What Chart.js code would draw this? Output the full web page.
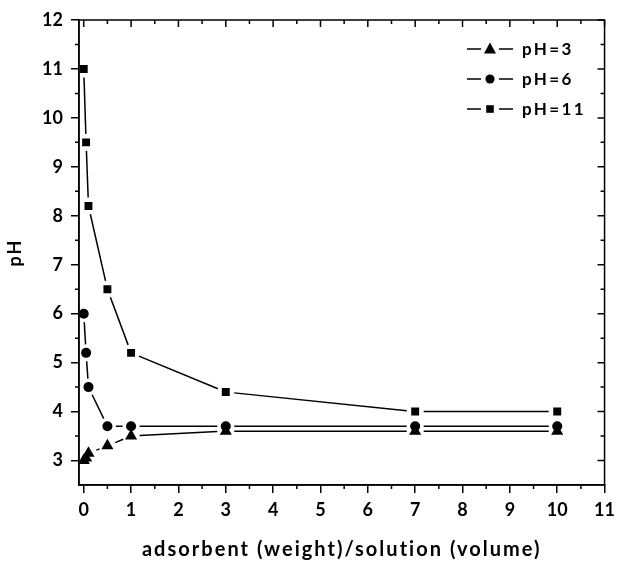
<!DOCTYPE html>
<html>
<head>
<meta charset="utf-8">
<script src="https://cdn.jsdelivr.net/npm/chart.js@4"></script>
<style>
  html, body { margin: 0; padding: 0; background: #fff; }
  #wrap { width: 621px; height: 562px; position: relative; }
</style>
</head>
<body>
<div id="wrap"><canvas id="c" width="621" height="562"></canvas></div>
<script>
// ---- data ----
const ratio = [0, 0.05, 0.1, 0.5, 1, 3, 7, 10];
const ph3 = [3.0, 3.05, 3.15, 3.3, 3.5, 3.6, 3.6, 3.6];
const ph6 = [6.0, 5.2, 4.5, 3.7, 3.7, 3.7, 3.7, 3.7];
const ph11 = [11.0, 9.5, 8.2, 6.5, 5.2, 4.4, 4.0, 4.0];
const seriesLabels = ['pH=3', 'pH=6', 'pH=11'];
const xTicks = [0, 1, 2, 3, 4, 5, 6, 7, 8, 9, 10, 11];
const yTicks = [3, 4, 5, 6, 7, 8, 9, 10, 11, 12];
const xTitle = 'adsorbent (weight)/solution (volume)';
const yTitle = 'pH';

const FONT = "Lato, 'Liberation Sans', Arial, sans-serif";
const styles = ['triangle', 'circle', 'rect'];
const radii = [7, 5, 5.6];

function toPts(ys) { return ratio.map((x, i) => ({ x: x, y: ys[i] })); }

const datasets = [ph3, ph6, ph11].map((ys, i) => ({
  label: seriesLabels[i],
  data: toPts(ys),
  showLine: false,
  pointStyle: styles[i],
  pointRadius: radii[i],
  pointBackgroundColor: '#000',
  pointBorderColor: '#000',
  pointBorderWidth: 0,
  borderColor: '#000'
}));

// gapped connecting lines (Origin style), drawn from the library's point elements
const gapLines = {
  id: 'gapLines',
  beforeDatasetsDraw(chart) {
    const ctx = chart.ctx, gap = 8.5;
    ctx.save();
    ctx.strokeStyle = '#000';
    ctx.lineWidth = 1.5;
    chart.data.datasets.forEach((ds, di) => {
      const pts = chart.getDatasetMeta(di).data;
      for (let i = 0; i < pts.length - 1; i++) {
        const a = pts[i], b = pts[i + 1];
        const dx = b.x - a.x, dy = b.y - a.y, len = Math.hypot(dx, dy);
        if (len <= 2 * gap + 2) continue;
        const ux = dx / len, uy = dy / len;
        ctx.beginPath();
        ctx.moveTo(a.x + ux * gap, a.y + uy * gap);
        ctx.lineTo(b.x - ux * gap, b.y - uy * gap);
        ctx.stroke();
      }
    });
    ctx.restore();
  }
};

function marker(ctx, style, x, y, r) {
  ctx.beginPath();
  if (style === 'circle') {
    ctx.arc(x, y, r, 0, Math.PI * 2);
  } else if (style === 'rect') {
    ctx.rect(x - r, y - r, 2 * r, 2 * r);
  } else {
    ctx.moveTo(x, y - r * 1.1);
    ctx.lineTo(x + r, y + r * 0.75);
    ctx.lineTo(x - r, y + r * 0.75);
    ctx.closePath();
  }
  ctx.fill();
}

// frame, mirrored/minor ticks and legend
const frame = {
  id: 'frame',
  afterDraw(chart) {
    const ctx = chart.ctx, a = chart.chartArea;
    const xs = chart.scales.x, ys = chart.scales.y;
    ctx.save();
    ctx.strokeStyle = '#000';
    ctx.lineWidth = 1.5;
    ctx.strokeRect(a.left, a.top, a.right - a.left, a.bottom - a.top);
    ctx.beginPath();
    xTicks.forEach(v => {
      const p = xs.getPixelForValue(v);
      ctx.moveTo(p, a.top); ctx.lineTo(p, a.top + 7);
    });
    xTicks.slice(0, -1).forEach(v => {
      const p = xs.getPixelForValue(v + 0.5);
      ctx.moveTo(p, a.top); ctx.lineTo(p, a.top + 4);
      ctx.moveTo(p, a.bottom); ctx.lineTo(p, a.bottom + 4);
    });
    yTicks.forEach(v => {
      const p = ys.getPixelForValue(v);
      ctx.moveTo(a.right, p); ctx.lineTo(a.right - 7, p);
    });
    yTicks.slice(0, -1).forEach(v => {
      const p = ys.getPixelForValue(v + 0.5);
      ctx.moveTo(a.right, p); ctx.lineTo(a.right - 4, p);
      ctx.moveTo(a.left, p); ctx.lineTo(a.left - 4, p);
    });
    ctx.stroke();

    // legend
    const lx = a.left + 388, ly0 = a.top + 29, dy = 30;
    const lr = [6, 4.6, 3.8];
    ctx.fillStyle = '#000';
    ctx.font = 'bold 17px ' + FONT;
    ctx.textBaseline = 'middle';
    ctx.textAlign = 'left';
    try { ctx.letterSpacing = '2.4px'; } catch (e) {}
    seriesLabels.forEach((t, i) => {
      const y = ly0 + i * dy;
      ctx.beginPath();
      ctx.moveTo(lx, y); ctx.lineTo(lx + 14, y);
      ctx.moveTo(lx + 32, y); ctx.lineTo(lx + 46, y);
      ctx.stroke();
      marker(ctx, styles[i], lx + 23, y, lr[i]);
      ctx.fillText(t, lx + 55, y + 1);
    });
    ctx.restore();
  }
};

function spacedTitle(targetWidth, fallback) {
  return function (scale) {
    if (scale._spacedTitle) return;
    const orig = scale.drawTitle.bind(scale);
    scale.drawTitle = function () {
      const c = scale.ctx;
      c.save();
      let sp = fallback;
      if (targetWidth) {
        const f = scale.options.title.font;
        c.font = 'bold ' + f.size + 'px ' + FONT;
        const t = scale.options.title.text;
        const w = c.measureText(t).width;
        sp = Math.max(0, (targetWidth - w) / (t.length - 1));
      }
      try { c.letterSpacing = sp + 'px'; } catch (e) {}
      orig.apply(null, arguments);
      c.restore();
    };
    scale._spacedTitle = true;
  };
}

new Chart(document.getElementById('c'), {
  type: 'scatter',
  data: { datasets: datasets },
  plugins: [gapLines, frame],
  options: {
    responsive: false,
    animation: false,
    events: [],
    layout: { padding: { top: 20, right: 10, left: 0, bottom: 0 } },
    plugins: { legend: { display: false }, tooltip: { enabled: false } },
    scales: {
      x: {
        type: 'linear',
        min: -0.1,
        max: 11,
        afterBuildTicks(s) { s.ticks = xTicks.map(v => ({ value: v })); },
        afterFit(s) { s.height = 77; },
        afterUpdate: spacedTitle(398, 0),
        grid: { drawOnChartArea: false, drawTicks: true, tickLength: 8, color: '#000', lineWidth: 1.5 },
        border: { display: true, color: '#000', width: 1.5 },
        ticks: { color: '#000', padding: 6, maxRotation: 0, autoSkip: false,
                 font: { family: FONT, size: 18, weight: 'bold' } },
        title: { display: true, text: xTitle, color: '#000',
                 font: { family: FONT, size: 20, weight: 'bold' }, padding: { top: 0, bottom: 0 } }
      },
      y: {
        type: 'linear',
        min: 2.5,
        max: 12,
        afterBuildTicks(s) { s.ticks = yTicks.map(v => ({ value: v })); },
        afterFit(s) { s.width = 79; },
        afterUpdate: spacedTitle(0, 2),
        grid: { drawOnChartArea: false, drawTicks: true, tickLength: 8, color: '#000', lineWidth: 1.5 },
        border: { display: true, color: '#000', width: 1.5 },
        ticks: { color: '#000', padding: 8, autoSkip: false,
                 font: { family: FONT, size: 18, weight: 'bold' } },
        title: { display: true, text: yTitle, color: '#000',
                 font: { family: FONT, size: 18, weight: 'bold' }, padding: { top: 4.5, bottom: 0 } }
      }
    }
  }
});
</script>
</body>
</html>
